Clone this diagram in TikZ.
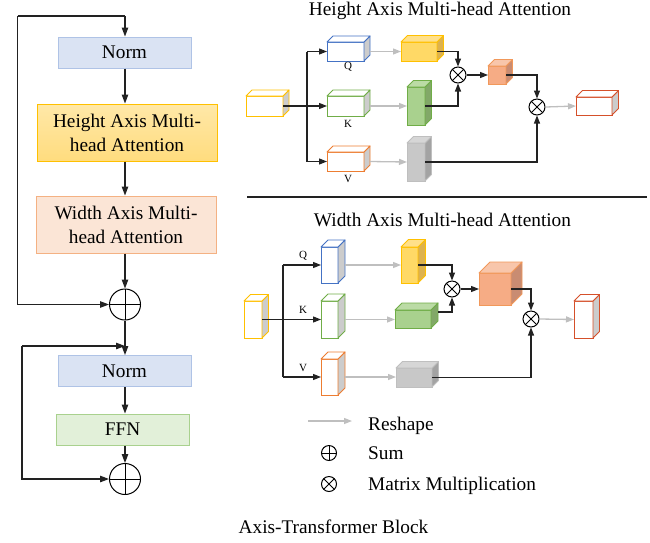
\documentclass[tikz,border=0pt]{standalone}
\usepackage{fontspec}
\setmainfont{Liberation Serif}
\usetikzlibrary{arrows.meta}
\definecolor{linec}{HTML}{222222}
\definecolor{grayarr}{HTML}{BFBFBF}
\definecolor{normfill}{HTML}{DAE3F3}
\definecolor{normline}{HTML}{AFC3E6}
\definecolor{hfillA}{HTML}{FFE8A8}
\definecolor{hfillB}{HTML}{FFDC7E}
\definecolor{hline}{HTML}{FFC000}
\definecolor{wfill}{HTML}{FBE5D6}
\definecolor{wline}{HTML}{F4B183}
\definecolor{ffnfill}{HTML}{E2F0D9}
\definecolor{ffnline}{HTML}{A9D18E}
% white cuboids
\definecolor{yWline}{HTML}{FFC000}\definecolor{yWfront}{HTML}{FFFFFF}\definecolor{yWside}{HTML}{CCCCCC}\definecolor{yWtop}{HTML}{FFFFFF}
\definecolor{bWline}{HTML}{4472C4}\definecolor{bWfront}{HTML}{FFFFFF}\definecolor{bWside}{HTML}{CCCCCC}\definecolor{bWtop}{HTML}{FFFFFF}
\definecolor{gWline}{HTML}{70AD47}\definecolor{gWfront}{HTML}{FFFFFF}\definecolor{gWside}{HTML}{CCCCCC}\definecolor{gWtop}{HTML}{FFFFFF}
\definecolor{oWline}{HTML}{ED7D31}\definecolor{oWfront}{HTML}{FFFFFF}\definecolor{oWside}{HTML}{CCCCCC}\definecolor{oWtop}{HTML}{FFFFFF}
\definecolor{rWline}{HTML}{D5502A}\definecolor{rWfront}{HTML}{FFFFFF}\definecolor{rWside}{HTML}{CCCCCC}\definecolor{rWtop}{HTML}{FFFFFF}
% filled cuboids
\definecolor{yFline}{HTML}{FFC000}\definecolor{yFfront}{HTML}{FFD966}\definecolor{yFside}{HTML}{DDB24E}\definecolor{yFtop}{HTML}{FFE08A}
\definecolor{gFline}{HTML}{70AD47}\definecolor{gFfront}{HTML}{A9D18E}\definecolor{gFside}{HTML}{82A868}\definecolor{gFtop}{HTML}{BBDBA5}
\definecolor{kFline}{HTML}{BFBFBF}\definecolor{kFfront}{HTML}{C8C8C8}\definecolor{kFside}{HTML}{A3A3A3}\definecolor{kFtop}{HTML}{D6D6D6}
\definecolor{oFline}{HTML}{F1985A}\definecolor{oFfront}{HTML}{F6AC85}\definecolor{oFside}{HTML}{C98C72}\definecolor{oFtop}{HTML}{F8C6AB}

\newcommand{\cub}[7]{% name x1 y1 x2 y2 depth scheme
  \node[draw=#7line, fill=#7front, line width=0.9pt, inner sep=0pt, outer sep=0pt,
        minimum width={#4-#2}, minimum height={#5-#3}, anchor=north west] (#1) at (#2,#3) {};
  \filldraw[draw=#7line, fill=#7side, line width=0.9pt, line join=round]
     (#4,#3) -- (#4+#6,#3-#6) -- (#4+#6,#5-#6) -- (#4,#5) -- cycle;
  \filldraw[draw=#7line, fill=#7top, line width=0.9pt, line join=round]
     (#2,#3) -- (#2+#6,#3-#6) -- (#4+#6,#3-#6) -- (#4,#3) -- cycle;
  \coordinate (#1-r) at (#4+#6,{(#3+#5)/2});
  \coordinate (#1-br) at (#4+#6,{(#3+#5)/2-#6});
}

\tikzset{
  txt/.style={font=\fontsize{19.3}{24}\selectfont, inner sep=0pt},
  lbl/.style={font=\fontsize{11}{13}\selectfont, inner sep=0pt},
  conn/.style={draw=linec, line width=1.1pt, -{Triangle[length=9pt,width=6.5pt]}},
  connS/.style={draw=linec, line width=1.1pt, -{Triangle[length=8pt,width=6pt]}},
  plain/.style={draw=linec, line width=1.1pt},
  reshape/.style={draw=grayarr, line width=1.3pt, -{Triangle[length=8pt,width=6pt]}},
  blockbox/.style={line width=1pt, inner sep=0pt, align=center, font=\fontsize{19.3}{24}\selectfont},
  oplus/.style={circle, draw=black, line width=1pt, inner sep=0pt, fill=white,
     path picture={\draw[line width=1pt] (path picture bounding box.north) -- (path picture bounding box.south)
                                           (path picture bounding box.west) -- (path picture bounding box.east);}},
  otimes/.style={circle, draw=black, line width=1pt, inner sep=0pt, fill=white,
     path picture={\draw[line width=1pt] (path picture bounding box.north east) -- (path picture bounding box.south west)
                                           (path picture bounding box.north west) -- (path picture bounding box.south east);}},
}

\begin{document}
\begin{tikzpicture}[x=1pt,y=-1pt]
\useasboundingbox (0,0) rectangle (650,542);

% ---------------- left column ----------------
\node[blockbox, fill=normfill, draw=normline, minimum width=133pt, minimum height=31pt] (norm1) at (124.5,52.5) {Norm};
\node[blockbox, top color=hfillA, bottom color=hfillB, draw=hline, minimum width=180pt, minimum height=57pt] (hax) at (127,132.5) {Height Axis Multi-\\head Attention};
\node[blockbox, fill=wfill, draw=wline, minimum width=180pt, minimum height=57pt] (wax) at (126,224.5) {Width Axis Multi-\\head Attention};
\node[oplus, minimum size=31pt] (sum1) at (125,304.5) {};
\node[blockbox, fill=normfill, draw=normline, minimum width=133pt, minimum height=31pt] (norm2) at (124.5,371) {Norm};
\node[blockbox, fill=ffnfill, draw=ffnline, minimum width=133pt, minimum height=31pt] (ffn) at (122.5,429.5) {FFN};
\node[oplus, minimum size=31pt] (sum2) at (125,479) {};

\coordinate (top1) at (125,16);
\coordinate (left1) at (17.5,16);
\coordinate (j2) at (125,346);
\coordinate (left2) at (22,346);

\draw[conn] (top1) -- (top1 |- norm1.north);
\draw[plain] (left1) -- (top1);
\draw[conn] (left1) |- (sum1.west);
\draw[conn] (norm1.south -| top1) -- (top1 |- hax.north);
\draw[conn] (hax.south -| top1) -- (top1 |- wax.north);
\draw[conn] (wax.south -| top1) -- (sum1.north);
\draw[conn] (sum1.south) -- (top1 |- norm2.north);
\draw[conn] (left2) -- (j2);
\draw[conn] (left2) |- (sum2.west);
\draw[conn] (norm2.south -| top1) -- (top1 |- ffn.north);
\draw[conn] (ffn.south -| top1) -- (sum2.north);

\node[txt, anchor=base] (caption) at (333.5,533) {Axis-Transformer Block};

% ---------------- Height axis attention ----------------
\node[txt, anchor=base] (title1) at (440,15.5) {Height Axis Multi-head Attention};

\cub{hin}{246}{96}{283}{116}{6}{yW}
\cub{hq}{327}{42}{364}{61}{6}{bW}
\cub{hk}{327}{96}{364}{116}{6}{gW}
\cub{hv}{327}{152}{364}{171}{6}{oW}
\node[lbl] (lq1) at (348,67) {Q};
\node[lbl] (lk1) at (348,123.5) {K};
\node[lbl] (lv1) at (348,179) {V};

\cub{hqr}{401}{42}{437}{61}{6.5}{yF}
\cub{hkr}{407}{87}{425}{125}{6.5}{gF}
\cub{hvr}{407}{143}{425}{181}{6.5}{kF}
\cub{hc}{488}{66}{506}{84}{6.5}{oF}
\cub{hout}{576}{97}{612}{115}{6.5}{rW}

\node[otimes, minimum size=16pt] (ht1) at (458,75) {};
\node[otimes, minimum size=16pt] (ht2) at (537,107) {};

\coordinate (hb) at (307,106);
\draw[connS] (hin.east) -- (hk.west);
\draw[plain] (hb |- hq.west) -- (hb |- hv.west);
\draw[connS] (hb |- hq.west) -- (hq.west);
\draw[connS] (hb |- hv.west) -- (hv.west);

\draw[reshape] (hq-r) -- (hqr.west);
\draw[reshape] (hk-r) -- (hkr.west);
\draw[reshape] (hv-r) -- (hvr.west);

\draw[connS] (hqr.east) -| (ht1.north);
\draw[connS] (hkr.east) -| (ht1.south);
\draw[connS] (ht1.east) -- (hc.west);
\draw[connS] (hc.east) -| (ht2.north);
\draw[connS] (hvr.east) -| (ht2.south);
\draw[reshape] (ht2.east) -- (hout.west);

% separator
\coordinate (sepL) at (247,197);
\coordinate (sepR) at (647,197);
\draw[plain] (sepL) -- (sepR);

% ---------------- Width axis attention ----------------
\node[txt, anchor=base] (title2) at (442.5,226) {Width Axis Multi-head Attention};

\cub{win}{244}{301}{262}{338}{6.5}{yW}
\cub{wq}{321}{247}{338}{283}{7}{bW}
\cub{wk}{321}{301}{338}{338}{7}{gW}
\cub{wv}{321}{359}{338}{395}{7}{oW}
\node[lbl] (lq2) at (303,256) {Q};
\node[lbl] (lk2) at (303,309.5) {K};
\node[lbl] (lv2) at (303,368) {V};

\cub{wqr}{401}{247}{418}{283}{7.5}{yF}
\cub{wkr}{395}{310}{431}{328}{7}{gF}
\cub{wvr}{396}{368}{432}{387}{6.5}{kF}
\cub{wc}{479}{273}{511}{305}{11}{oF}
\cub{wout}{574}{301}{593}{338}{6.5}{rW}

\node[otimes, minimum size=16pt] (wt1) at (452,289) {};
\node[otimes, minimum size=16pt] (wt2) at (531,319) {};

\coordinate (wb) at (283,319);
\draw[connS] (win.east) -- (wk.west);
\draw[plain] (wb |- wq.west) -- (wb |- wv.west);
\draw[connS] (wb |- wq.west) -- (wq.west);
\draw[connS] (wb |- wv.west) -- (wv.west);

\draw[reshape] (wq-r) -- (wqr.west);
\draw[reshape] (wk-r) -- (wk-r -| wkr.west);
\draw[reshape] (wv-r) -- (wv-r -| wvr.west);

\draw[connS] (wqr.east) -| (wt1.north);
\draw[connS] (wkr-br) -| (wt1.south);
\draw[connS] (wt1.east) -- (wc.west);
\draw[connS] (wc.east) -| (wt2.north);
\draw[connS] (wvr.east) -| (wt2.south);
\draw[reshape] (wt2.east) -- (wout.west);

% ---------------- legend ----------------
\coordinate (lgA) at (308,421);
\coordinate (lgB) at (352,421);
\draw[reshape] (lgA) -- (lgB);
\node[txt, anchor=base west] (tres) at (368,430) {Reshape};
\node[oplus, minimum size=15pt] (lgsum) at (329,453) {};
\node[txt, anchor=base west] (tsum) at (368,459) {Sum};
\node[otimes, minimum size=15pt] (lgmul) at (329,484) {};
\node[txt, anchor=base west] (tmul) at (368,490) {Matrix Multiplication};
\end{tikzpicture}
\end{document}
